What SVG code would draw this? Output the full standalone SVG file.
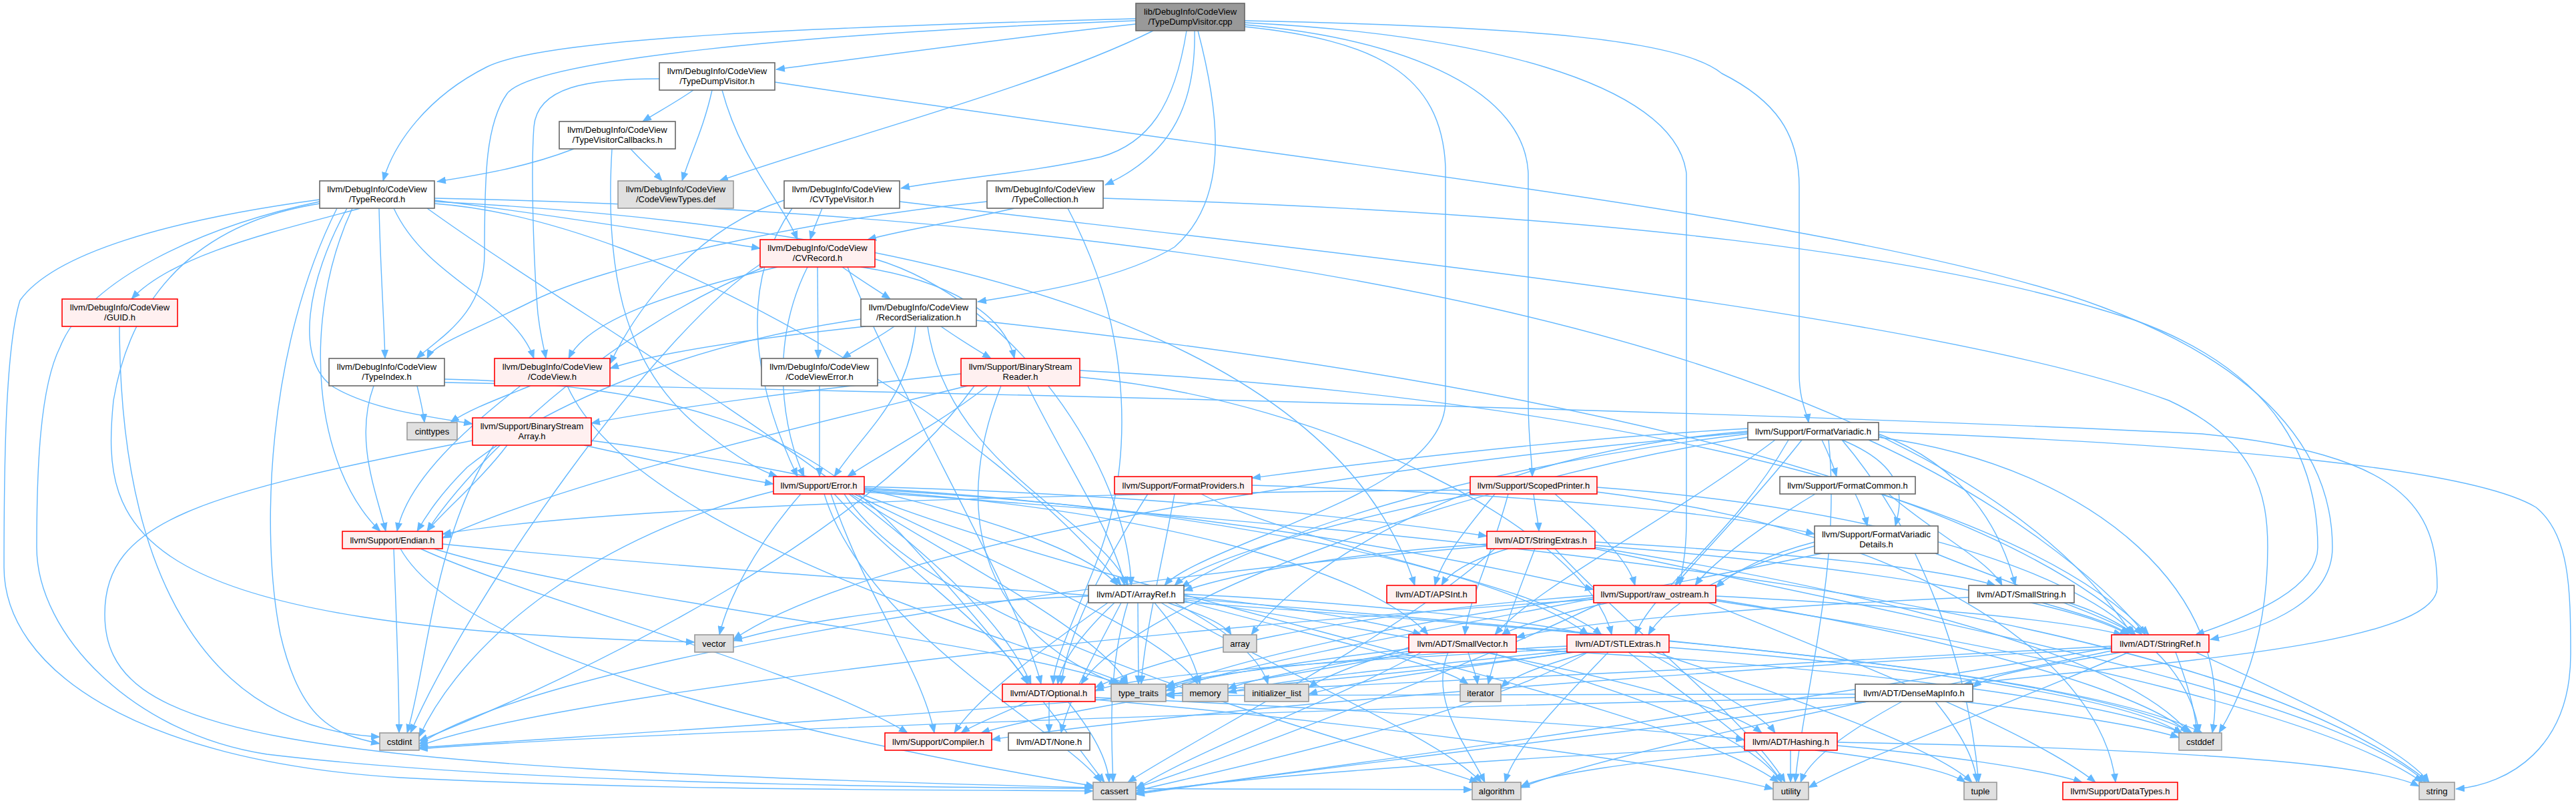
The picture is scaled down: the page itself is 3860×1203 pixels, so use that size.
<svg xmlns="http://www.w3.org/2000/svg" width="3860" height="1203" viewBox="0 0 3860 1203">
<defs>
<marker id="ah" markerUnits="userSpaceOnUse" markerWidth="14" markerHeight="11" viewBox="0 0 14 11" refX="13" refY="5.5" orient="auto">
<path d="M0,0 L14,5.5 L0,11 z" fill="#63b8ff"/>
</marker>
</defs>
<style>
.e path{fill:none;stroke:#63b8ff;stroke-width:1.4;marker-end:url(#ah)}
.w rect{fill:#ffffff;stroke:#666666;stroke-width:1.6}
.r rect{fill:#fff0f0;stroke:#ff0000;stroke-width:1.6}
.g rect{fill:#e0e0e0;stroke:#999999;stroke-width:1.6}
.root rect{fill:#999999;stroke:#666666;stroke-width:1.6}
text{font-family:"Liberation Sans",Arial,sans-serif;font-size:13px;fill:#000000;text-anchor:middle}
</style>
<rect width="3860" height="1203" fill="#ffffff"/>
<g id="edges" class="e">
<path d="M1702,36 C1500,58 1300,86 1163,104"/>
<path d="M1702,28 C1250,40 820,55 730,100 C640,145 590,215 574,271"/>
<path d="M1702,31 C1200,50 800,90 760,140 C728,185 726,260 726,380 C726,470 660,505 624,537"/>
<path d="M1728,46 C1560,130 1250,210 1078,271"/>
<path d="M1778,46 C1760,160 1720,215 1650,235 C1540,260 1420,268 1350,282"/>
<path d="M1790,46 C1792,150 1760,230 1656,277"/>
<path d="M1795,46 C1830,180 1840,300 1760,370 C1680,420 1540,440 1465,452"/>
<path d="M1865,40 C2060,60 2160,110 2166,250 L2166,600 C2166,700 1990,760 1900,800 C1800,840 1760,860 1745,877"/>
<path d="M1865,37 C2120,60 2285,140 2290,260 L2290,600 C2290,660 2296,690 2296,714"/>
<path d="M1865,34 C2200,50 2510,120 2527,260 L2527,780 C2527,830 2520,855 2517,877"/>
<path d="M1865,31 C2300,40 2520,60 2580,110 C2660,150 2696,200 2696,280 L2696,560 C2696,600 2708,620 2710,633"/>
<path d="M1039,135 C1010,155 985,168 963,182"/>
<path d="M1067,135 C1055,190 1035,230 1022,271"/>
<path d="M1082,135 C1110,240 1170,300 1195,359"/>
<path d="M988,118 C880,118 805,130 800,190 C795,260 800,400 806,470 C810,505 815,520 818,537"/>
<path d="M1161,123 C2000,250 2800,330 3150,460 C3420,560 3495,700 3495,820 C3495,900 3400,940 3312,958"/>
<path d="M860,223 C790,250 720,262 655,272"/>
<path d="M945,223 C960,240 978,255 992,271"/>
<path d="M917,223 C905,420 940,560 1060,650 C1110,690 1140,705 1165,714"/>
<path d="M651,300 C850,325 1000,350 1139,372"/>
<path d="M590,312 C640,420 770,450 800,537"/>
<path d="M540,312 C420,345 260,380 197,448"/>
<path d="M568,312 C570,400 575,470 577,537"/>
<path d="M520,312 C460,420 440,540 500,580 C560,615 650,625 708,635"/>
<path d="M528,312 C450,480 470,700 570,796"/>
<path d="M505,312 C400,520 390,800 420,950 C450,1080 500,1100 569,1114"/>
<path d="M479,305 C320,330 200,420 170,600 C150,800 190,940 1041,962"/>
<path d="M479,299 C250,330 80,380 30,450 C8,520 6,700 6,850 C6,1000 200,1140 600,1165 C1000,1185 1400,1183 1638,1185"/>
<path d="M479,302 C300,340 130,420 90,520 C60,580 55,700 55,820 C55,950 200,1100 400,1130 C900,1190 1800,1180 2206,1183"/>
<path d="M651,305 C1000,330 1500,650 1680,877"/>
<path d="M651,302 C1400,340 2000,500 2120,877"/>
<path d="M651,297 C1800,320 2900,500 3195,951"/>
<path d="M640,312 C900,500 1450,800 1545,1025"/>
<path d="M1232,312 C1225,330 1218,345 1214,359"/>
<path d="M1175,300 C1050,340 960,450 914,545"/>
<path d="M1187,312 C1090,450 1150,620 1195,714"/>
<path d="M1348,302 C2000,380 2900,470 3250,600 C3380,660 3398,740 3398,820 C3398,950 3360,1040 3325,1098"/>
<path d="M1520,312 C1420,335 1350,345 1300,359"/>
<path d="M1479,302 C1200,330 900,400 800,450 C700,500 650,515 640,537"/>
<path d="M1653,297 C2400,320 2900,380 3200,480 C3420,560 3473,700 3473,820 C3473,880 3380,920 3290,951"/>
<path d="M1600,312 C1700,500 1700,700 1640,850 C1600,950 1580,990 1578,1025"/>
<path d="M1262,400 C1290,420 1315,435 1334,448"/>
<path d="M1225,400 L1226,537"/>
<path d="M1290,400 C1420,420 1505,470 1520,537"/>
<path d="M1210,400 C1150,520 1175,650 1205,714"/>
<path d="M1165,400 C1000,440 880,480 852,537"/>
<path d="M1145,400 C900,500 700,700 640,796"/>
<path d="M1311,388 C1520,450 1690,700 1695,877"/>
<path d="M1270,400 C1350,600 1530,900 1560,1025"/>
<path d="M1139,396 C980,500 700,900 615,1098"/>
<path d="M1340,489 C1310,510 1280,525 1262,537"/>
<path d="M1410,489 C1440,510 1465,525 1485,537"/>
<path d="M1372,489 C1360,600 1300,640 1250,714"/>
<path d="M1297,489 C1100,510 980,530 914,552"/>
<path d="M1290,478 C1000,520 800,620 700,700 C660,740 640,770 625,796"/>
<path d="M1463,480 C2200,560 2950,700 3210,951"/>
<path d="M1390,489 C1420,700 1650,780 1690,877"/>
<path d="M1228,578 L1228,714"/>
<path d="M1480,578 C1400,640 1320,680 1270,714"/>
<path d="M1440,560 C1200,585 1000,612 886,634"/>
<path d="M1450,578 C1200,640 850,720 663,806"/>
<path d="M1540,578 C1600,700 1670,800 1685,877"/>
<path d="M1618,565 C2000,600 2380,800 2415,951"/>
<path d="M1618,555 C2300,590 3000,720 3220,951"/>
<path d="M1500,578 C1420,780 1480,950 1675,1025"/>
<path d="M1460,578 C1300,800 900,1000 628,1110"/>
<path d="M625,578 C630,600 634,615 636,633"/>
<path d="M560,578 C530,660 565,740 578,796"/>
<path d="M666,568 C1000,575 1200,640 1350,800 C1500,960 1600,1100 1655,1172"/>
<path d="M666,573 C1500,590 2600,615 3300,650 C3600,680 3652,760 3652,880 C3652,970 3200,995 2942,1025"/>
<path d="M795,578 C740,600 700,615 675,633"/>
<path d="M780,578 C700,640 610,720 595,796"/>
<path d="M850,578 C950,800 1500,950 1690,1025"/>
<path d="M179,489 C180,850 300,1090 569,1104"/>
<path d="M886,660 C1200,700 1600,790 1675,877"/>
<path d="M875,667 C1000,695 1100,715 1159,725"/>
<path d="M760,667 C720,720 660,770 640,796"/>
<path d="M740,667 C650,800 640,1000 610,1098"/>
<path d="M708,660 C300,740 157,780 157,920 C157,1100 400,1150 1638,1180"/>
<path d="M1245,740 C1300,900 1380,1000 1400,1098"/>
<path d="M1295,733 C1800,760 2200,840 2388,883"/>
<path d="M1295,729 C1700,740 2000,770 2228,803"/>
<path d="M1265,740 C1400,950 2000,1100 2215,1172"/>
<path d="M1235,740 C1300,950 1600,1100 1650,1172"/>
<path d="M1159,736 C900,800 700,950 628,1104"/>
<path d="M1280,740 C1500,850 1750,950 1795,1025"/>
<path d="M1295,737 C2200,800 3300,900 3640,1172"/>
<path d="M1275,740 C1450,850 1650,950 1690,1025"/>
<path d="M1290,740 C1700,900 2500,1050 2665,1172"/>
<path d="M1200,740 C1130,820 1090,900 1078,951"/>
<path d="M1295,735 C1700,760 2050,850 2140,951"/>
<path d="M1295,731 C1800,760 2250,850 2380,951"/>
<path d="M1250,740 C1350,850 1500,950 1540,1025"/>
<path d="M1720,740 C1650,850 1600,950 1590,1025"/>
<path d="M1800,740 C1950,820 2300,870 2400,951"/>
<path d="M1876,727 C2300,740 2600,770 2719,800"/>
<path d="M1760,740 C1740,850 1715,950 1710,1025"/>
<path d="M2240,740 C2190,800 2160,840 2150,877"/>
<path d="M2210,740 C2000,780 1800,840 1760,877"/>
<path d="M2260,740 C2230,850 2200,900 2195,951"/>
<path d="M2298,740 C2300,760 2305,780 2306,796"/>
<path d="M2393,730 C2800,760 3100,850 3200,951"/>
<path d="M2393,737 C2900,800 3150,1000 3170,1172"/>
<path d="M2203,734 C1500,740 900,760 663,800"/>
<path d="M2330,740 C2400,800 2440,840 2450,877"/>
<path d="M2619,642 C2300,660 2000,700 1876,716"/>
<path d="M2730,659 C2740,680 2748,700 2752,714"/>
<path d="M2760,659 C2860,700 2850,750 2840,788"/>
<path d="M2619,650 C2200,700 1900,800 1770,880"/>
<path d="M2619,655 C2200,720 1700,900 1620,1025"/>
<path d="M2680,659 C2600,800 2480,880 2450,951"/>
<path d="M2815,650 C2950,700 3000,800 3020,877"/>
<path d="M2660,659 C2500,780 2300,880 2240,951"/>
<path d="M2800,659 C3000,750 3150,870 3215,951"/>
<path d="M2700,659 C2620,760 2540,840 2510,877"/>
<path d="M2619,646 C2200,680 1950,850 1875,951"/>
<path d="M2815,655 C3150,700 3350,900 3315,1098"/>
<path d="M2815,647 C3300,665 3700,700 3800,760 C3850,800 3852,880 3852,980 C3852,1120 3760,1175 3680,1182"/>
<path d="M2760,659 C2880,800 2950,1000 2965,1172"/>
<path d="M2740,659 C2760,850 2700,1050 2690,1172"/>
<path d="M2619,648 C2000,700 1300,820 1099,958"/>
<path d="M2830,740 C2900,800 2980,840 3000,877"/>
<path d="M2780,740 C2790,760 2795,775 2798,788"/>
<path d="M2720,740 C2620,800 2560,850 2540,877"/>
<path d="M630,822 C800,900 1200,1000 1360,1098"/>
<path d="M600,822 C700,1000 1300,1120 1640,1178"/>
<path d="M663,815 C1500,900 3000,950 3300,1098"/>
<path d="M590,822 C595,950 598,1050 598,1098"/>
<path d="M650,822 C900,900 1500,960 1680,1025"/>
<path d="M2260,822 C2200,840 2170,860 2160,877"/>
<path d="M2228,815 C2000,830 1850,860 1774,885"/>
<path d="M2390,812 C2700,830 2900,850 2990,877"/>
<path d="M2390,817 C2800,850 3100,900 3190,951"/>
<path d="M2240,822 C2100,950 1800,1100 1690,1172"/>
<path d="M2390,820 C2900,900 3200,1000 3280,1098"/>
<path d="M2228,818 C1500,880 800,1000 628,1115"/>
<path d="M2300,822 C2270,900 2240,980 2230,1025"/>
<path d="M2390,822 C3000,950 3500,1050 3635,1172"/>
<path d="M2330,822 C2450,950 2620,1080 2675,1172"/>
<path d="M2719,818 C2600,850 2500,900 2470,951"/>
<path d="M2900,829 C3000,870 3150,920 3200,951"/>
<path d="M2719,812 C2650,830 2600,855 2571,880"/>
<path d="M2730,829 C2400,900 1900,980 1747,1035"/>
<path d="M1774,898 C2100,950 2550,1030 2640,1098"/>
<path d="M1680,903 C1640,980 1600,1050 1590,1098"/>
<path d="M1774,893 C1950,910 2080,935 2130,951"/>
<path d="M1774,890 C2000,900 2300,930 2380,951"/>
<path d="M1660,903 C1550,980 1460,1050 1430,1098"/>
<path d="M1740,903 C1900,1000 2150,1100 2220,1172"/>
<path d="M1750,903 C1800,920 1835,935 1845,951"/>
<path d="M1690,903 C1660,1000 1665,1100 1668,1172"/>
<path d="M1774,896 C2400,950 3100,1000 3285,1098"/>
<path d="M1760,903 C1850,950 1890,990 1900,1025"/>
<path d="M1774,900 C1950,950 2150,990 2200,1025"/>
<path d="M1730,903 C1770,950 1790,990 1798,1025"/>
<path d="M1705,903 L1706,1025"/>
<path d="M1631,893 C1350,905 1180,935 1099,960"/>
<path d="M1670,903 C1620,950 1590,990 1585,1025"/>
<path d="M2410,903 C2330,920 2270,940 2250,951"/>
<path d="M2571,893 C2900,910 3100,930 3180,951"/>
<path d="M2560,903 C2800,1000 3050,1100 3140,1172"/>
<path d="M2400,903 C2200,1000 1800,1150 1702,1180"/>
<path d="M2571,898 C2900,950 3200,1030 3280,1098"/>
<path d="M2388,898 C1600,950 800,1050 628,1118"/>
<path d="M2571,900 C3100,980 3500,1080 3630,1172"/>
<path d="M2388,895 C2100,930 1850,990 1747,1030"/>
<path d="M2388,892 C2000,920 1750,980 1641,1030"/>
<path d="M2950,895 C2600,910 2350,935 2272,955"/>
<path d="M3060,903 C3120,920 3170,935 3190,951"/>
<path d="M3100,903 C3250,950 3290,1050 3295,1098"/>
<path d="M2120,977 C1900,1020 1600,1060 1470,1098"/>
<path d="M2170,977 C2140,1050 2200,1120 2225,1172"/>
<path d="M2130,977 C2000,1050 1800,1120 1702,1182"/>
<path d="M2272,972 C2800,1000 3150,1050 3270,1098"/>
<path d="M2111,970 C2050,990 1990,1010 1961,1030"/>
<path d="M2200,977 C2205,995 2212,1010 2214,1025"/>
<path d="M2115,975 C2000,995 1880,1015 1840,1032"/>
<path d="M2111,972 C1950,990 1800,1015 1747,1030"/>
<path d="M2230,977 C2450,1040 2620,1100 2670,1172"/>
<path d="M2470,977 C2560,1030 2640,1070 2660,1098"/>
<path d="M2348,972 C2000,990 1700,1010 1641,1035"/>
<path d="M2410,977 C2340,1050 2270,1120 2255,1172"/>
<path d="M2380,977 C2200,1080 1800,1160 1702,1185"/>
<path d="M2501,970 C2900,1000 3200,1050 3270,1100"/>
<path d="M2360,977 C1800,1050 900,1100 628,1120"/>
<path d="M2355,977 C2200,1000 2050,1015 1961,1040"/>
<path d="M2380,977 C2320,995 2270,1010 2249,1030"/>
<path d="M2350,975 C2100,1000 1900,1020 1840,1038"/>
<path d="M2480,977 C2700,1050 2900,1120 2955,1172"/>
<path d="M2348,968 C2000,985 1800,1010 1747,1028"/>
<path d="M2440,977 C2550,1060 2640,1120 2670,1172"/>
<path d="M3180,977 C3050,1000 2980,1010 2956,1030"/>
<path d="M3164,972 C2600,1000 1800,1060 1486,1108"/>
<path d="M3164,975 C2800,1050 2400,1130 2279,1180"/>
<path d="M3164,970 C2700,1050 2000,1150 1702,1188"/>
<path d="M3260,977 C3280,1030 3290,1070 3292,1098"/>
<path d="M3290,977 C3450,1050 3600,1120 3640,1172"/>
<path d="M3164,968 C2800,990 2000,1030 1747,1040"/>
<path d="M3190,977 C3000,1060 2800,1130 2710,1180"/>
<path d="M1641,1045 C2000,1060 2450,1090 2614,1108"/>
<path d="M1572,1051 L1572,1098"/>
<path d="M1540,1051 C1500,1070 1460,1085 1440,1098"/>
<path d="M1600,1051 C1640,1100 1660,1140 1662,1172"/>
<path d="M1641,1048 C2000,1080 2500,1140 2657,1182"/>
<path d="M2800,1051 C2400,1100 1900,1160 1702,1190"/>
<path d="M2940,1051 C3100,1070 3220,1090 3265,1105"/>
<path d="M2780,1045 C2000,1060 900,1100 628,1122"/>
<path d="M2900,1051 C2940,1100 2960,1140 2962,1172"/>
<path d="M2780,1040 C2400,1040 2000,1040 1747,1042"/>
<path d="M2850,1051 C2760,1100 2710,1140 2698,1172"/>
<path d="M2753,1117 C2900,1130 3050,1150 3120,1172"/>
<path d="M2640,1124 C2450,1140 2320,1160 2279,1178"/>
<path d="M2614,1118 C2200,1140 1850,1165 1702,1188"/>
<path d="M2753,1112 C3200,1120 3550,1140 3625,1178"/>
<path d="M2720,1124 C2850,1140 2920,1155 2945,1172"/>
<path d="M2683,1124 L2683,1172"/>
</g>
<g id="cpp" class="root"><rect x="1702" y="5" width="163" height="41"/><text x="1783.5" y="22">lib/DebugInfo/CodeView</text><text x="1783.5" y="37">/TypeDumpVisitor.cpp</text></g>
<g id="tdvh" class="w"><rect x="988" y="94" width="173" height="41"/><text x="1074.5" y="111">llvm/DebugInfo/CodeView</text><text x="1074.5" y="126">/TypeDumpVisitor.h</text></g>
<g id="tvc" class="w"><rect x="838" y="182" width="174" height="41"/><text x="925" y="199">llvm/DebugInfo/CodeView</text><text x="925" y="214">/TypeVisitorCallbacks.h</text></g>
<g id="trec" class="w"><rect x="479" y="271" width="172" height="41"/><text x="565" y="288">llvm/DebugInfo/CodeView</text><text x="565" y="303">/TypeRecord.h</text></g>
<g id="cvtdef" class="g"><rect x="926" y="271" width="173" height="41"/><text x="1012.5" y="288">llvm/DebugInfo/CodeView</text><text x="1012.5" y="303">/CodeViewTypes.def</text></g>
<g id="cvtv" class="w"><rect x="1175" y="271" width="173" height="41"/><text x="1261.5" y="288">llvm/DebugInfo/CodeView</text><text x="1261.5" y="303">/CVTypeVisitor.h</text></g>
<g id="tcoll" class="w"><rect x="1479" y="271" width="174" height="41"/><text x="1566" y="288">llvm/DebugInfo/CodeView</text><text x="1566" y="303">/TypeCollection.h</text></g>
<g id="cvrec" class="r"><rect x="1139" y="359" width="172" height="41"/><text x="1225" y="376">llvm/DebugInfo/CodeView</text><text x="1225" y="391">/CVRecord.h</text></g>
<g id="guid" class="r"><rect x="93" y="448" width="173" height="41"/><text x="179.5" y="465">llvm/DebugInfo/CodeView</text><text x="179.5" y="480">/GUID.h</text></g>
<g id="recser" class="w"><rect x="1290" y="448" width="173" height="41"/><text x="1376.5" y="465">llvm/DebugInfo/CodeView</text><text x="1376.5" y="480">/RecordSerialization.h</text></g>
<g id="tidx" class="w"><rect x="493" y="537" width="173" height="41"/><text x="579.5" y="554">llvm/DebugInfo/CodeView</text><text x="579.5" y="569">/TypeIndex.h</text></g>
<g id="cv" class="r"><rect x="741" y="537" width="173" height="41"/><text x="827.5" y="554">llvm/DebugInfo/CodeView</text><text x="827.5" y="569">/CodeView.h</text></g>
<g id="cverr" class="w"><rect x="1141" y="537" width="174" height="41"/><text x="1228" y="554">llvm/DebugInfo/CodeView</text><text x="1228" y="569">/CodeViewError.h</text></g>
<g id="bsr" class="r"><rect x="1440" y="537" width="178" height="41"/><text x="1529" y="554">llvm/Support/BinaryStream</text><text x="1529" y="569">Reader.h</text></g>
<g id="cinttypes" class="g"><rect x="610" y="633" width="75" height="26"/><text x="647.5" y="651">cinttypes</text></g>
<g id="bsa" class="r"><rect x="708" y="626" width="178" height="41"/><text x="797" y="643">llvm/Support/BinaryStream</text><text x="797" y="658">Array.h</text></g>
<g id="fv" class="w"><rect x="2619" y="633" width="196" height="26"/><text x="2717" y="651">llvm/Support/FormatVariadic.h</text></g>
<g id="error" class="r"><rect x="1159" y="714" width="136" height="26"/><text x="1227" y="732">llvm/Support/Error.h</text></g>
<g id="fprov" class="r"><rect x="1670" y="714" width="206" height="26"/><text x="1773" y="732">llvm/Support/FormatProviders.h</text></g>
<g id="sp" class="r"><rect x="2203" y="714" width="190" height="26"/><text x="2298" y="732">llvm/Support/ScopedPrinter.h</text></g>
<g id="fcommon" class="w"><rect x="2667" y="714" width="203" height="26"/><text x="2768.5" y="732">llvm/Support/FormatCommon.h</text></g>
<g id="endian" class="r"><rect x="513" y="796" width="150" height="26"/><text x="588" y="814">llvm/Support/Endian.h</text></g>
<g id="strext" class="r"><rect x="2228" y="796" width="162" height="26"/><text x="2309" y="814">llvm/ADT/StringExtras.h</text></g>
<g id="fvd" class="w"><rect x="2719" y="788" width="185" height="41"/><text x="2811.5" y="805">llvm/Support/FormatVariadic</text><text x="2811.5" y="820">Details.h</text></g>
<g id="arrayref" class="w"><rect x="1631" y="877" width="143" height="26"/><text x="1702.5" y="895">llvm/ADT/ArrayRef.h</text></g>
<g id="apsint" class="r"><rect x="2078" y="877" width="134" height="26"/><text x="2145" y="895">llvm/ADT/APSInt.h</text></g>
<g id="rawos" class="r"><rect x="2388" y="877" width="183" height="26"/><text x="2479.5" y="895">llvm/Support/raw_ostream.h</text></g>
<g id="smallstr" class="w"><rect x="2950" y="877" width="158" height="26"/><text x="3029" y="895">llvm/ADT/SmallString.h</text></g>
<g id="vector" class="g"><rect x="1041" y="951" width="58" height="26"/><text x="1070" y="969">vector</text></g>
<g id="array" class="g"><rect x="1833" y="951" width="50" height="26"/><text x="1858" y="969">array</text></g>
<g id="smallvec" class="r"><rect x="2111" y="951" width="161" height="26"/><text x="2191.5" y="969">llvm/ADT/SmallVector.h</text></g>
<g id="stlext" class="r"><rect x="2348" y="951" width="153" height="26"/><text x="2424.5" y="969">llvm/ADT/STLExtras.h</text></g>
<g id="stringref" class="r"><rect x="3164" y="951" width="146" height="26"/><text x="3237" y="969">llvm/ADT/StringRef.h</text></g>
<g id="optional" class="r"><rect x="1502" y="1025" width="139" height="26"/><text x="1571.5" y="1043">llvm/ADT/Optional.h</text></g>
<g id="typetraits" class="g"><rect x="1665" y="1025" width="82" height="26"/><text x="1706" y="1043">type_traits</text></g>
<g id="memory" class="g"><rect x="1772" y="1025" width="68" height="26"/><text x="1806" y="1043">memory</text></g>
<g id="initlist" class="g"><rect x="1865" y="1025" width="96" height="26"/><text x="1913" y="1043">initializer_list</text></g>
<g id="iterator" class="g"><rect x="2188" y="1025" width="61" height="26"/><text x="2218.5" y="1043">iterator</text></g>
<g id="densemap" class="w"><rect x="2780" y="1025" width="176" height="26"/><text x="2868" y="1043">llvm/ADT/DenseMapInfo.h</text></g>
<g id="compiler" class="r"><rect x="1326" y="1098" width="160" height="26"/><text x="1406" y="1116">llvm/Support/Compiler.h</text></g>
<g id="none" class="w"><rect x="1511" y="1098" width="122" height="26"/><text x="1572" y="1116">llvm/ADT/None.h</text></g>
<g id="cstdint" class="g"><rect x="569" y="1098" width="59" height="26"/><text x="598.5" y="1116">cstdint</text></g>
<g id="hashing" class="r"><rect x="2614" y="1098" width="139" height="26"/><text x="2683.5" y="1116">llvm/ADT/Hashing.h</text></g>
<g id="cstddef" class="g"><rect x="3265" y="1098" width="64" height="26"/><text x="3297" y="1116">cstddef</text></g>
<g id="cassert" class="g"><rect x="1638" y="1172" width="64" height="26"/><text x="1670" y="1190">cassert</text></g>
<g id="algorithm" class="g"><rect x="2206" y="1172" width="73" height="26"/><text x="2242.5" y="1190">algorithm</text></g>
<g id="utility" class="g"><rect x="2657" y="1172" width="53" height="26"/><text x="2683.5" y="1190">utility</text></g>
<g id="tuple" class="g"><rect x="2943" y="1172" width="49" height="26"/><text x="2967.5" y="1190">tuple</text></g>
<g id="datatypes" class="r"><rect x="3091" y="1172" width="172" height="26"/><text x="3177" y="1190">llvm/Support/DataTypes.h</text></g>
<g id="string" class="g"><rect x="3625" y="1172" width="53" height="26"/><text x="3651.5" y="1190">string</text></g>
</svg>
